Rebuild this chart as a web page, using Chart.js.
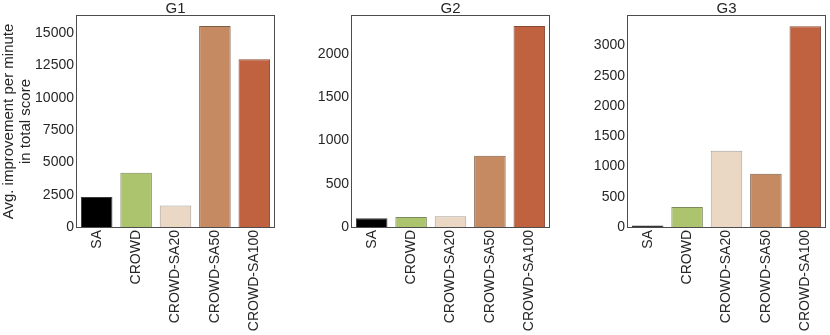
<!DOCTYPE html>
<html>
<head>
<meta charset="utf-8">
<script src="https://cdn.jsdelivr.net/npm/chart.js@4"></script>
<style>
html,body{margin:0;padding:0;background:#fff;}
#wrap{position:relative;width:830px;height:335px;overflow:hidden;}
canvas{position:absolute;top:0;}
</style>
</head>
<body>
<div id="wrap">
<canvas id="c1"></canvas>
<canvas id="c2"></canvas>
<canvas id="c3"></canvas>
</div>
<script>
const categories = ["SA", "CROWD", "CROWD-SA20", "CROWD-SA50", "CROWD-SA100"];
const g1Values = [2330, 4190, 1660, 15540, 12980];
const g2Values = [101, 116, 124, 824, 2325];
const g3Values = [23, 331, 1260, 879, 3322];
const titles = ["G1", "G2", "G3"];
const g1Ticks = [0, 2500, 5000, 7500, 10000, 12500, 15000];
const g2Ticks = [0, 500, 1000, 1500, 2000];
const g3Ticks = [0, 500, 1000, 1500, 2000, 2500, 3000];
const yMax = [16320, 2442, 3490];
const barColors = ["#000000", "#adc46f", "#ead8c4", "#c58a62", "#c06240"];
const edgeColors = ["#3a3a3a", "#7c8a5e", "#a8a29b", "#7e5d46", "#874c37"];

const FONT = "'Liberation Sans', Arial, sans-serif";
const TXT = "#262626";

const frame = {
  id: 'frame',
  afterDraw(chart) {
    const a = chart.chartArea, ctx = chart.ctx;
    ctx.save();
    ctx.strokeStyle = "#4d4d4d";
    ctx.lineWidth = 1;
    ctx.strokeRect(Math.round(a.left) - 0.5, Math.round(a.top) - 0.5, Math.round(a.right - a.left) + 1, Math.round(a.bottom - a.top) + 1);
    ctx.restore();
  }
};

const panels = [
  {id: "c1", left: 0, width: 282, plotLeft: 77, plotRight: 274, data: g1Values, ticks: g1Ticks, yTitle: ["Avg. improvement per minute", "in total score"]},
  {id: "c2", left: 290, width: 270, plotLeft: 352, plotRight: 549, data: g2Values, ticks: g2Ticks, yTitle: null},
  {id: "c3", left: 570, width: 260, plotLeft: 628, plotRight: 825, data: g3Values, ticks: g3Ticks, yTitle: null}
];

panels.forEach((p, i) => {
  const cv = document.getElementById(p.id);
  cv.style.left = p.left + "px";
  cv.width = p.width; cv.height = 335;
  cv.style.width = p.width + "px"; cv.style.height = "335px";
  new Chart(cv, {
    type: 'bar',
    data: {
      labels: categories,
      datasets: [{
        data: p.data,
        backgroundColor: barColors,
        borderColor: edgeColors,
        borderWidth: 1,
        categoryPercentage: 1.0,
        barPercentage: 0.8
      }]
    },
    plugins: [frame],
    options: {
      responsive: false,
      animation: false,
      devicePixelRatio: 1,
      layout: {padding: {left: 0, right: p.left + p.width - p.plotRight, top: 0, bottom: 0}},
      plugins: {
        legend: {display: false},
        tooltip: {enabled: false},
        title: {
          display: true, text: titles[i], fullSize: false, color: TXT,
          font: {family: FONT, size: 15, weight: 'normal', lineHeight: 1},
          padding: {top: 1, bottom: 0}
        }
      },
      scales: {
        x: {
          grid: {display: false, drawTicks: false},
          border: {display: false},
          ticks: {color: TXT, font: {family: FONT, size: 14}, minRotation: 90, maxRotation: 90, padding: 3, autoSkip: false},
          afterFit(s) { s.height = 335 - 227; }
        },
        y: {
          min: 0, max: yMax[i],
          grid: {display: false, drawTicks: false},
          border: {display: false},
          afterBuildTicks(s) { s.ticks = p.ticks.map(v => ({value: v})); },
          ticks: {color: TXT, font: {family: FONT, size: 14}, padding: 3, autoSkip: false, callback: v => String(v)},
          title: p.yTitle ? {display: true, text: p.yTitle, color: TXT, font: {family: FONT, size: 15, lineHeight: 1.15}, padding: {top: 0, bottom: 0}} : {display: false},
          afterFit(s) { s.width = p.plotLeft - p.left; }
        }
      }
    }
  });
});
</script>
</body>
</html>
